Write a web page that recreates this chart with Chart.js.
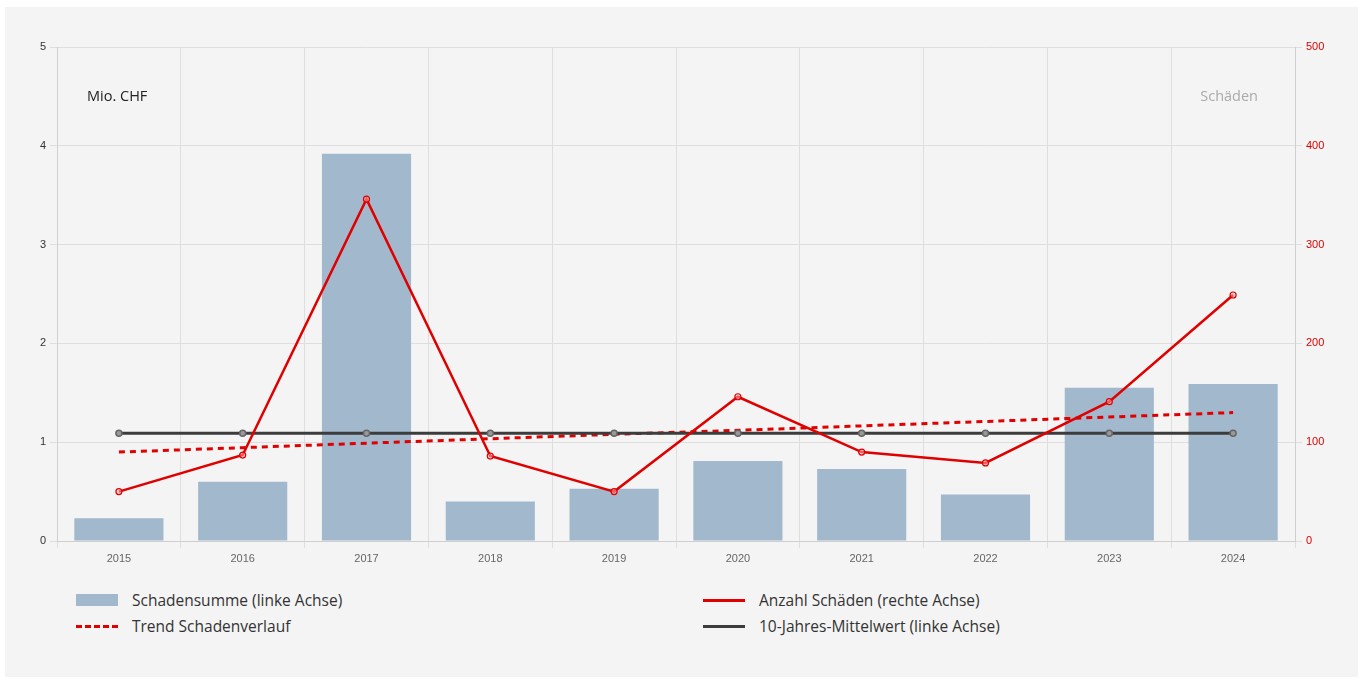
<!DOCTYPE html>
<html><head><meta charset="utf-8">
<script src="https://cdn.jsdelivr.net/npm/chart.js@4/dist/chart.umd.min.js"></script>
<style>
html,body{margin:0;padding:0;background:#fff;}
#wrap{position:absolute;left:5px;top:7px;width:1353px;height:670px;background:#f4f4f4;}
#cv{position:absolute;left:-5px;top:-7px;}
#legend{position:absolute;left:0;top:579px;width:1353px;font-family:"Open Sans",sans-serif;font-size:15.5px;color:#333;}
.item{position:absolute;display:flex;align-items:center;height:20px;}
.sym{width:42px;margin-right:14px;}
</style></head>
<body>
<div id="wrap">
<canvas id="cv" width="1363" height="580"></canvas>
<div id="legend">
 <div class="item" style="left:71px;top:4px"><div class="sym" style="height:12px;background:#a1b8cd"></div><span>Schadensumme (linke Achse)</span></div>
 <div class="item" style="left:71px;top:30px"><div class="sym" style="height:0;border-top:3px dashed #e00000"></div><span>Trend Schadenverlauf</span></div>
 <div class="item" style="left:698px;top:4px"><div class="sym" style="height:3px;background:#e00000"></div><span>Anzahl Schäden (rechte Achse)</span></div>
 <div class="item" style="left:698px;top:30px"><div class="sym" style="height:3px;background:#3c3c3c"></div><span>10-Jahres-Mittelwert (linke Achse)</span></div>
</div>
</div>
<script>
const years = ['2015','2016','2017','2018','2019','2020','2021','2022','2023','2024'];
const schadensumme = [0.23,0.60,3.92,0.40,0.53,0.81,0.73,0.47,1.55,1.59];
const anzahlSchaeden = [50,87,346,86,50,146,90,79,141,249];
const trend = [0.90,0.945,0.99,1.035,1.08,1.12,1.165,1.21,1.255,1.30];
const mittelwert = [1.09,1.09,1.09,1.09,1.09,1.09,1.09,1.09,1.09,1.09];

const RED = '#e00000';
const labelsPlugin = {
  id:'labels',
  afterDraw(chart){
    const {ctx, chartArea} = chart;
    ctx.save();
    ctx.font = '14.5px "Open Sans", sans-serif';
    ctx.textBaseline = 'middle';
    ctx.fillStyle = '#222';
    ctx.textAlign = 'left';
    ctx.fillText('Mio. CHF', chartArea.left + 30, chartArea.top + 50);
    ctx.fillStyle = '#aaa';
    ctx.textAlign = 'right';
    ctx.fillText('Schäden', chartArea.right - 37, chartArea.top + 50);
    ctx.restore();
  }
};

new Chart(document.getElementById('cv'), {
  data:{
    labels: years,
    datasets:[
      {type:'bar', label:'Schadensumme (linke Achse)', data:schadensumme, backgroundColor:'#a1b8cd', yAxisID:'y', order:4},
      {type:'line', label:'Trend Schadenverlauf', data:trend, borderColor:RED, borderWidth:3, borderDash:[6,5], pointRadius:0, fill:false, yAxisID:'y', order:3},
      {type:'line', label:'10-Jahres-Mittelwert (linke Achse)', data:mittelwert, borderColor:'#3c3c3c', borderWidth:3, pointRadius:3, pointBorderColor:'#666', pointBackgroundColor:'#999', pointBorderWidth:1.5, fill:false, yAxisID:'y', order:2},
      {type:'line', label:'Anzahl Schäden (rechte Achse)', data:anzahlSchaeden, borderColor:RED, borderWidth:2.5, pointRadius:3, pointBorderColor:RED, pointBackgroundColor:'rgba(255,180,180,0.5)', pointBorderWidth:1.2, tension:0, fill:false, yAxisID:'y1', order:1}
    ]
  },
  options:{
    responsive:false, animation:false,
    layout:{padding:{left:27,right:33,top:47,bottom:9}},
    plugins:{legend:{display:false}, tooltip:{enabled:false}},
    scales:{
      x:{
        grid:{color:'#dedede', offset:true, tickLength:7, drawTicks:true},
        border:{color:'#cfcfcf'},
        ticks:{color:'#666', font:{family:'Liberation Sans', size:11}, padding:4},
        afterFit(s){ s.height = 30; }
      },
      y:{
        position:'left', min:0, max:5,
        ticks:{stepSize:1, color:'#333', font:{family:'Liberation Sans', size:11}, padding:4},
        grid:{color:'#dedede', tickLength:7},
        border:{color:'#cfcfcf'},
        afterFit(s){ s.width = 30; }
      },
      y1:{
        position:'right', min:0, max:500,
        ticks:{stepSize:100, color:RED, font:{family:'Liberation Sans', size:11}, padding:4},
        grid:{drawOnChartArea:false, color:'#dedede', tickLength:7},
        border:{color:'#cfcfcf'},
        afterFit(s){ s.width = 35; }
      }
    }
  },
  plugins:[labelsPlugin]
});
</script>
</body></html>
